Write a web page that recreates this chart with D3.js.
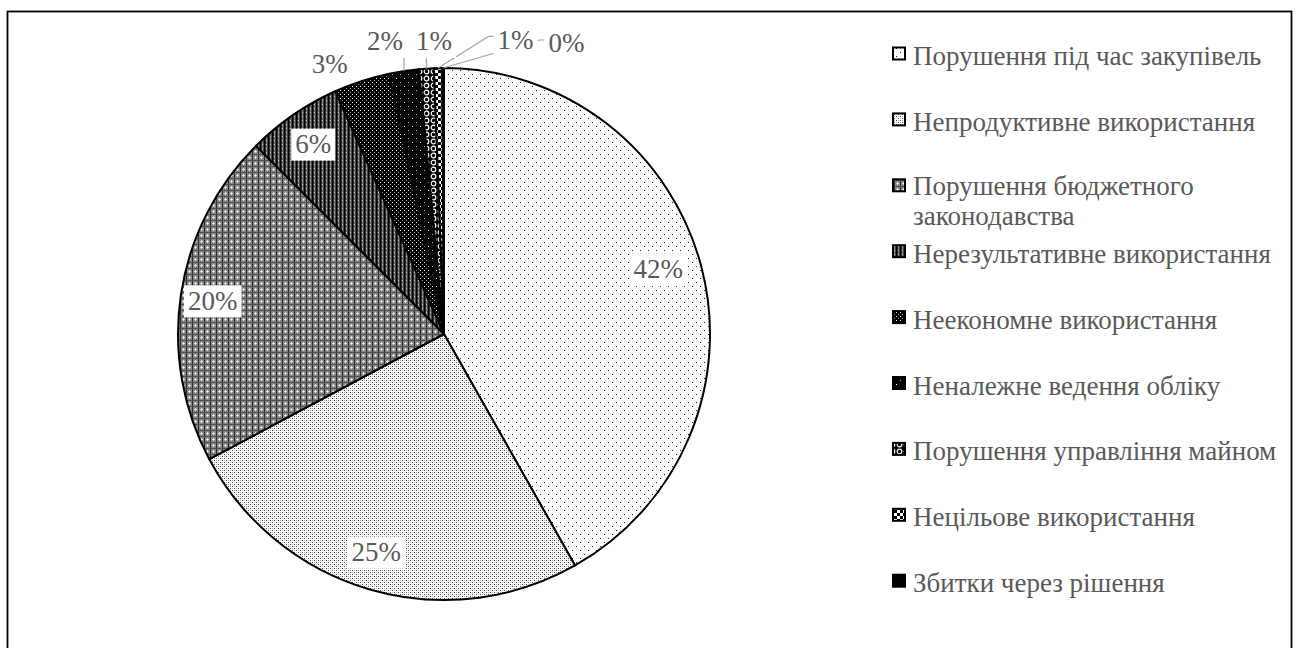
<!DOCTYPE html>
<html>
<head>
<meta charset="utf-8">
<script src="https://cdn.jsdelivr.net/npm/d3@7"></script>
<style>
  html, body { margin: 0; padding: 0; background: #fff; }
  svg { display: block; }
</style>
</head>
<body>
<svg id="chart" width="1298" height="648"></svg>
<script>
// Structure of detected budget violations, shares in percent
const categories = [
  "Порушення під час закупівель",
  "Непродуктивне використання",
  "Порушення бюджетного законодавства",
  "Нерезультативне використання",
  "Неекономне використання",
  "Неналежне ведення обліку",
  "Порушення управління майном",
  "Нецільове використання",
  "Збитки через рішення"
];
const shares = [41.8, 25.4, 20.3, 5.8, 3.4, 1.8, 0.9, 0.5, 0.1];

// Legend text broken into lines where the entry wraps
const legendLines = [
  ["Порушення під час закупівель"],
  ["Непродуктивне використання"],
  ["Порушення бюджетного", "законодавства"],
  ["Нерезультативне використання"],
  ["Неекономне використання"],
  ["Неналежне ведення обліку"],
  ["Порушення управління майном"],
  ["Нецільове використання"],
  ["Збитки через рішення"]
];

// ---- layout / style ----
const W = 1298, H = 648;
const cx = 444, cy = 334, R = 266;
const FONT = "'Liberation Serif', 'Times New Roman', serif";
const TEXT = "#595959";
const LEADER = "#a6a6a6";

// which labels sit inside the pie, and label placement tweaks (px)
const insideLabel = [true, true, true, true, false, false, false, false, false];
const showLeader  = [false, false, false, false, false, true, true, true, true];
const labelShift  = [[-7,-7],[-4,-2],[-5,0],[-1,-2],[-32,-17],[-19,-30],[7.5,-27.6],[77.4,-28.6],[123.3,-25]];

const svg = d3.select("#chart");
svg.append("rect").attr("width", W).attr("height", H).attr("fill", "#fff");

// ---- pattern fills ----
const defs = svg.append("defs");
function pattern(id, size, bg, cells) {
  const p = defs.append("pattern").attr("id", id)
    .attr("patternUnits", "userSpaceOnUse")
    .attr("width", size).attr("height", size);
  p.append("rect").attr("width", size).attr("height", size).attr("fill", bg);
  cells.forEach(([x, y, w, h, c]) => p.append("rect")
    .attr("x", x).attr("y", y).attr("width", w).attr("height", h).attr("fill", c));
  return p;
}
pattern("pat0", 8, "#fff", [[0,0,1,1,"#222"],[4,4,1,1,"#222"]]);
pattern("pat1", 4, "#fff", [[0,0,1,1,"#4a4a4a"],[2,2,1,1,"#4a4a4a"],[2,0,1,1,"#bdbdbd"],[0,2,1,1,"#bdbdbd"]]);
pattern("pat2", 6, "#868686", [[0,0,1,6,"#2a2a2a"],[0,0,6,1,"#505050"],[3,3,1,1,"#fff"],[2,3,1,1,"#cfcfcf"],[4,3,1,1,"#cfcfcf"],[3,2,1,1,"#cfcfcf"],[3,4,1,1,"#cfcfcf"]]);
pattern("pat3", 4, "#000", [[1,0,1,4,"#2a2a2a"],[2,0,1,4,"#7a7a7a"],[3,0,1,4,"#454545"],[2,2,1,1,"#c8c8c8"]]);
pattern("pat4", 4, "#000", [[0,0,1,1,"#fff"],[2,2,1,1,"#9a9a9a"]]);
pattern("pat5", 8, "#000", [[0,0,1,1,"#fff"],[4,4,1,1,"#bbb"]]);
const circ = pattern("pat6", 7, "#000", []);
circ.append("circle").attr("cx", 3.5).attr("cy", 3.5).attr("r", 2.3)
  .attr("fill", "none").attr("stroke", "#fff").attr("stroke-width", 1.2);
pattern("pat7", 6, "#fff", [[0,0,3,3,"#000"],[3,3,3,3,"#000"]]);
pattern("pat8", 4, "#000", []);
const fillOf = i => `url(#pat${i})`;

// ---- frame ----
svg.append("rect")
  .attr("x", 7.5).attr("y", 11.5).attr("width", 1284).attr("height", 660)
  .attr("fill", "none").attr("stroke", "#000").attr("stroke-width", 1.8);

// ---- pie ----
const pie = d3.pie().sort(null).value(d => d)(shares);
const arc = d3.arc().innerRadius(0).outerRadius(R);
const g = svg.append("g").attr("transform", `translate(${cx},${cy})`);

g.selectAll("path.slice").data(pie).join("path")
  .attr("class", "slice")
  .attr("d", arc)
  .attr("fill", (d, i) => fillOf(i))
  .attr("stroke", "#000").attr("stroke-width", 2).attr("stroke-linejoin", "round");

// ---- data labels ----
const fmt = v => Math.round(v) + "%";
const inArc = d3.arc().innerRadius(R * 0.86).outerRadius(R * 0.86);
const edgePoint = d => {
  const a = (d.startAngle + d.endAngle) / 2;
  return [R * Math.sin(a), -R * Math.cos(a)];
};

const labels = pie.map((d, i) => {
  const base = insideLabel[i] ? inArc.centroid(d) : edgePoint(d);
  return { d, i, text: fmt(d.data), x: base[0] + labelShift[i][0], y: base[1] + labelShift[i][1], edge: edgePoint(d) };
});

const leaderG = g.append("g");
const labelG = g.append("g");

labels.forEach(L => {
  const grp = labelG.append("g");
  const box = grp.append("rect").attr("fill", "#fff");
  const t = grp.append("text")
    .attr("x", L.x).attr("y", L.y).attr("dy", "0.34em")
    .attr("text-anchor", "middle")
    .attr("font-family", FONT).attr("font-size", 27).attr("fill", TEXT)
    .text(L.text);
  const w = t.node().getComputedTextLength() + 8;
  const h = 32;
  L.box = { x0: L.x - w / 2, x1: L.x + w / 2, y0: L.y - h / 2 + 1, y1: L.y + h / 2 + 1 };
  box.attr("x", L.box.x0).attr("y", L.box.y0).attr("width", w).attr("height", h);
});

labels.forEach(L => {
  if (!showLeader[L.i]) return;
  const [px, py] = L.edge;
  let pts;
  if (px >= L.box.x0 && px <= L.box.x1) {
    pts = [[px, py], [px, L.box.y1]];
  } else {
    const sx = L.box.x0;
    pts = [[px, py], [sx - 5, L.y - 3], [sx, L.y - 3]];
  }
  leaderG.append("path")
    .attr("d", d3.line()(pts))
    .attr("fill", "none").attr("stroke", LEADER).attr("stroke-width", 1.2);
});

// ---- legend ----
const legend = svg.append("g");
const legendX = 893, textX = 913, baseY = 65, rowStep = 65.9, lineStep = 30;
legendLines.forEach((lines, i) => {
  const by = baseY + i * rowStep;
  legend.append("rect")
    .attr("x", legendX).attr("y", by - 17.5).attr("width", 12).attr("height", 12)
    .attr("fill", fillOf(i)).attr("stroke", "#000").attr("stroke-width", 2);
  const top = by - (lines.length - 1) * 1.5;
  lines.forEach((ln, k) => legend.append("text")
    .attr("x", textX).attr("y", top + k * lineStep)
    .attr("font-family", FONT).attr("font-size", 27).attr("fill", TEXT)
    .text(ln));
});
</script>
</body>
</html>
